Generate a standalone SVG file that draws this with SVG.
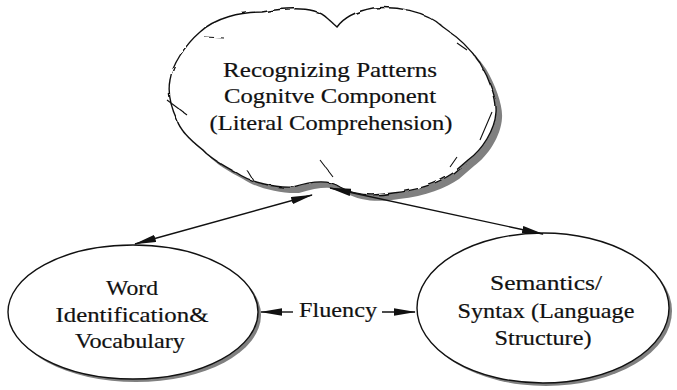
<svg xmlns="http://www.w3.org/2000/svg" width="677" height="390" viewBox="0 0 677 390">
<defs>
<style>
.t{font-family:"Liberation Serif","Times New Roman",serif;font-size:22px;fill:#111;stroke:#111;stroke-width:0.2;text-anchor:middle}
.shape{fill:#fff;stroke:#111;stroke-width:1.4}
.shadow{fill:#808080;stroke:none}
.conn{stroke:#111;stroke-width:1.4;fill:none}
.thin{stroke:#111;stroke-width:1.1;fill:none}
</style>
<marker id="ah" viewBox="0 0 22 8" refX="21" refY="4" markerWidth="22" markerHeight="8" markerUnits="userSpaceOnUse" orient="auto-start-reverse">
<path d="M0,0.3 L22,4 L0,7.7 z" fill="#111"/>
</marker>
<filter id="rough" x="-5%" y="-5%" width="110%" height="110%">
<feTurbulence type="fractalNoise" baseFrequency="0.08" numOctaves="2" seed="3"/>
<feDisplacementMap in="SourceGraphic" scale="3"/>
</filter>
</defs>
<rect width="677" height="390" fill="#fff"/>

<g id="cloud">
<path class="shadow" transform="translate(6,6)" d="M200,32 C215,18 240,12 262,12 C285,8 315,6 327,18 L337,27 C342,20 352,12 373,8 C395,6 425,10 443,27 C455,35 470,48 480,63 C490,80 497,100 496,112 C495,130 482,150 468,160 L453,173 C440,182 420,190 393,193 C375,196 355,196 340,187 C330,180 315,180 293,187 C275,188 250,182 237,173 C222,165 210,158 203,150 C190,140 180,130 177,120 C170,105 168,90 170,80 C172,65 185,45 200,32 Z"/>
<g filter="url(#rough)">
<path class="shape" d="M200,32 C215,18 240,12 262,12 C285,8 315,6 327,18 L337,27 C342,20 352,12 373,8 C395,6 425,10 443,27 C455,35 470,48 480,63 C490,80 497,100 496,112 C495,130 482,150 468,160 L453,173 C440,182 420,190 393,193 C375,196 355,196 340,187 C330,180 315,180 293,187 C275,188 250,182 237,173 C222,165 210,158 203,150 C190,140 180,130 177,120 C170,105 168,90 170,80 C172,65 185,45 200,32 Z"/>
<path class="thin" d="M167,100 L187,115 M205,37 L224,38 M320,160 L333,177 M247,170 L253,180 M457,157 L450,167 M457,43 L467,50 M492,112 L480,140"/>
</g>
<text class="t" x="330" y="77" textLength="214" lengthAdjust="spacingAndGlyphs">Recognizing Patterns</text>
<text class="t" x="330" y="103" textLength="212" lengthAdjust="spacingAndGlyphs">Cognitve Component</text>
<text class="t" x="331" y="130" textLength="243" lengthAdjust="spacingAndGlyphs">(Literal Comprehension)</text>
</g>

<g id="word">
<ellipse class="shadow" cx="136" cy="315" rx="125" ry="67"/>
<ellipse class="shape" cx="133" cy="312" rx="125" ry="67"/>
<text class="t" x="132" y="295" textLength="52" lengthAdjust="spacingAndGlyphs">Word</text>
<text class="t" x="132" y="322" textLength="153" lengthAdjust="spacingAndGlyphs">Identification&amp;</text>
<text class="t" x="130" y="348" textLength="110" lengthAdjust="spacingAndGlyphs">Vocabulary</text>
</g>

<g id="semantics">
<ellipse class="shadow" cx="546" cy="311" rx="126" ry="75"/>
<ellipse class="shape" cx="543" cy="308" rx="126" ry="75"/>
<text class="t" x="546" y="290" textLength="112" lengthAdjust="spacingAndGlyphs">Semantics/</text>
<text class="t" x="546" y="318" textLength="177" lengthAdjust="spacingAndGlyphs">Syntax (Language</text>
<text class="t" x="543" y="345" textLength="97" lengthAdjust="spacingAndGlyphs">Structure)</text>
</g>

<g id="connectors">
<line class="conn" x1="312" y1="195" x2="135" y2="244" marker-start="url(#ah)" marker-end="url(#ah)"/>
<line class="conn" x1="330" y1="188" x2="543" y2="234" marker-start="url(#ah)" marker-end="url(#ah)"/>
<line class="conn" x1="293" y1="312" x2="261" y2="312" marker-end="url(#ah)"/>
<line class="conn" x1="382" y1="312" x2="415" y2="312" marker-end="url(#ah)"/>
<text class="t" x="338" y="317" textLength="78" lengthAdjust="spacingAndGlyphs">Fluency</text>
</g>
</svg>
